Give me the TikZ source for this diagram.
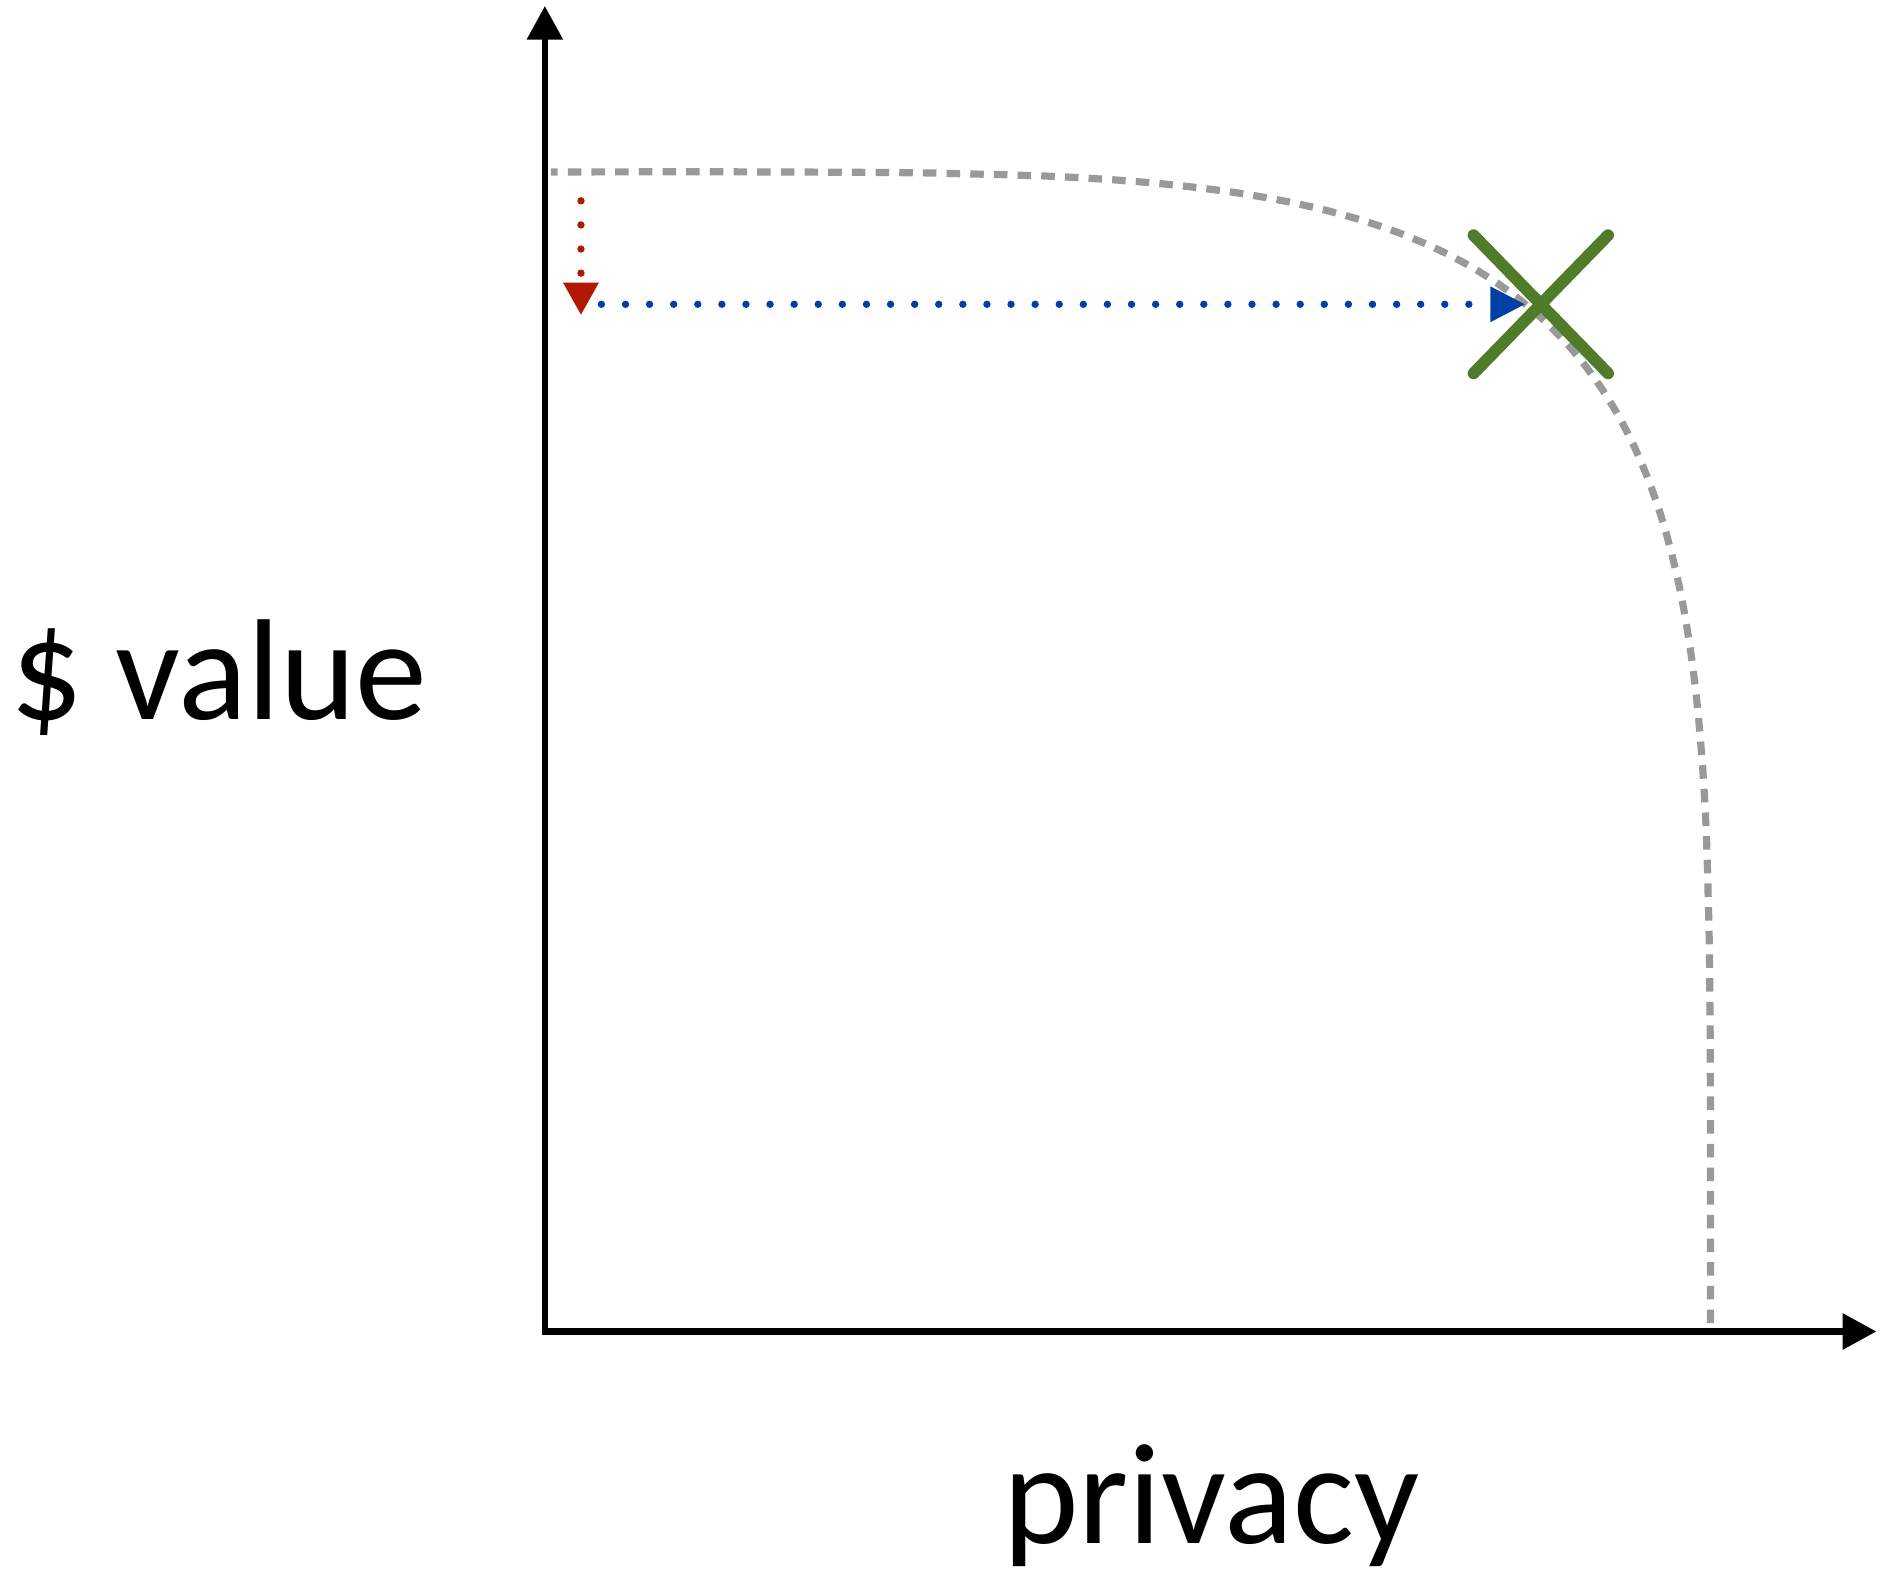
\documentclass[tikz,border=0pt]{standalone}
\usepackage{fontspec}
\setmainfont{Carlito}
\usetikzlibrary{arrows.meta,shapes.misc}
\definecolor{curvegray}{HTML}{999999}
\definecolor{arrowred}{RGB}{178,24,0}
\definecolor{arrowblue}{RGB}{0,64,166}
\definecolor{markgreen}{RGB}{80,124,42}
\begin{document}
\begin{tikzpicture}[
        axis/.style={line width=1.45pt, {Triangle[length=0.28cm,width=0.29cm]}-{Triangle[length=0.28cm,width=0.29cm]}},
        frontier/.style={draw=curvegray, line width=1.7pt, dash pattern=on 3.2pt off 2.4pt},
        dotline/.style={line width=1.75pt, line cap=round, dash pattern=on 0pt off 5.7pt},
        lbl/.style={font=\fontsize{34}{41}\selectfont, inner sep=0pt, anchor=base}
    ]
                        \useasboundingbox (-4.53,-2.13) rectangle (11.15,11.07);

                        % axes
                        \coordinate (O) at (0,0);
                        \coordinate (ytop) at (0,11.02);
                        \coordinate (xend) at (11.07,0);
                        \draw [axis] (ytop)--(O)--(xend);

                        % frontier
                        \draw [frontier] (9.69,0.07) -- plot [domain=0.2:89.8, samples=200, smooth] ({9.69*cos(\x)^0.42},{9.64*sin(\x)^0.42}) -- (0.05,9.64);

                        % chosen point
                        \node [draw=markgreen, cross out, line width=2.8pt, line cap=round, minimum width=1.02cm, minimum height=1.05cm, inner sep=0pt] (pick) at (8.28,8.54) {};

                        \coordinate (redtop) at (0.30,9.40);
                        \coordinate (redtip) at (0.30,8.45);
                        \draw [dotline, draw=arrowred, -{Triangle[length=0.27cm,width=0.28cm]}] (redtop)--(redtip);
                        \coordinate (bluestart) at (0.47,8.54);
                        \draw [dotline, draw=arrowblue, -{Triangle[length=0.29cm,width=0.28cm]}, shorten >=0.13cm] (bluestart)--(pick.center);

                        \node [lbl] (ylab) at (-2.71,5.09) {\$ value};
                        \node [lbl] (xlab) at (5.54,-1.76) {privacy};
                    \end{tikzpicture}
\end{document}
